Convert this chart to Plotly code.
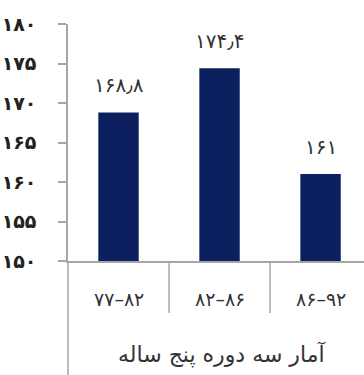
import plotly.graph_objects as go

categories = ["۷۷–۸۲", "۸۲–۸۶", "۸۶–۹۲"]
values = [168.8, 174.4, 161]
y_ticks = [150, 155, 160, 165, 170, 175, 180]
x_title = "آمار سه دوره پنج ساله"

def fa(v):
    s = ("%g" % v).replace(".", "٫")
    return s.translate(str.maketrans("0123456789", "۰۱۲۳۴۵۶۷۸۹"))

bar_color = "#0c2060"
axis_color = "#a6a6a6"
font_family = "DejaVu Sans"

xs = list(range(len(categories)))
fig = go.Figure(go.Bar(x=xs, y=values, width=0.4, marker=dict(color=bar_color, line=dict(width=0))))

for x, v in zip(xs, values):
    fig.add_annotation(x=x, y=v, text=fa(v), showarrow=False, yshift=27, yanchor="middle",
                       font=dict(family=font_family, size=20, color="#333333"))

# category labels under axis
for x, c in zip(xs, categories):
    fig.add_annotation(x=x, y=0, yref="paper", text=c, showarrow=False, yshift=-38,
                       yanchor="middle",
                       font=dict(family=font_family, size=19, color="#333333"))

fig.add_annotation(x=0.5, xref="paper", y=0, yref="paper", text=x_title, showarrow=False,
                   yshift=-93, xshift=5, yanchor="middle",
                   font=dict(family=font_family, size=22, color="#333333"))

# separators between categories
for sx in [0.5, 1.5]:
    fig.add_shape(type="line", x0=sx, x1=sx, xref="x", y0=0, y1=-52/237, yref="paper",
                  line=dict(color=axis_color, width=1.5))
# extend y-axis line down
fig.add_shape(type="line", x0=0, x1=0, xref="paper", y0=0, y1=-114/237, yref="paper",
              line=dict(color=axis_color, width=1.5))

fig.update_layout(
    width=364, height=375,
    margin=dict(l=68, r=0, t=24, b=114),
    paper_bgcolor="white", plot_bgcolor="white",
    showlegend=False,
    xaxis=dict(range=[-0.5, 2.43], showticklabels=False, ticks="", showgrid=False,
               showline=True, linecolor=axis_color, linewidth=1.5, zeroline=False, fixedrange=True),
    yaxis=dict(range=[150, 180], tickvals=y_ticks, ticktext=[fa(t) for t in y_ticks],
               ticks="outside", ticklen=8, tickcolor=axis_color, tickwidth=1.5,
               showline=True, linecolor=axis_color, linewidth=1.5, showgrid=False, zeroline=False,
               ticklabelstandoff=18,
               tickfont=dict(family=font_family, size=19, color="#222222", weight="bold")),
)

fig.write_html("out.html")
